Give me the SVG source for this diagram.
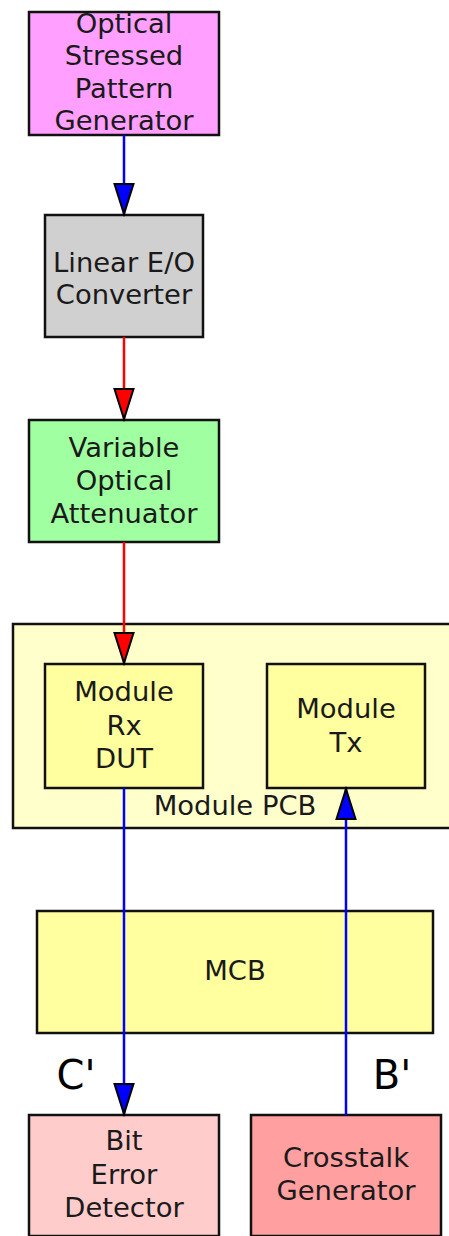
<svg xmlns="http://www.w3.org/2000/svg" width="449" height="1236" viewBox="0 0 449 1236">
<style>
.box{stroke:#111;stroke-width:2.5}
.t{font-family:"DejaVu Sans",sans-serif;font-size:27.4px;fill:#1a1a1a;text-anchor:middle;dominant-baseline:central}
.big{font-family:"DejaVu Sans",sans-serif;font-size:40px;fill:#000;text-anchor:middle;dominant-baseline:central}
.blue{stroke:#0000ff;stroke-width:2.5;fill:none}
.red{stroke:#ff0000;stroke-width:2.5;fill:none}
</style>
<defs>
<marker id="ab" markerUnits="userSpaceOnUse" markerWidth="34" markerHeight="22" refX="31" refY="11" orient="auto" viewBox="0 0 34 22">
<path d="M1,1.5 L1,20.5 L31,11 Z" fill="#0000ff" stroke="#000" stroke-width="2"/>
</marker>
<marker id="ar" markerUnits="userSpaceOnUse" markerWidth="34" markerHeight="22" refX="31" refY="11" orient="auto" viewBox="0 0 34 22">
<path d="M1,1.5 L1,20.5 L31,11 Z" fill="#ff0000" stroke="#000" stroke-width="2"/>
</marker>
</defs>
<rect width="449" height="1236" fill="#fff"/>
<g id="pcb">
<rect class="box" x="13" y="624" width="440" height="204" fill="#ffffcc"/>
<text class="t" x="235" y="805">Module PCB</text>
</g>
<g id="ospg">
<rect class="box" x="29" y="12" width="190" height="123" fill="#ff9fff"/>
<text class="t" x="124" y="23">Optical</text>
<text class="t" x="124" y="55">Stressed</text>
<text class="t" x="124" y="88">Pattern</text>
<text class="t" x="124" y="120">Generator</text>
</g>
<g id="eo">
<rect class="box" x="45" y="215" width="158" height="122" fill="#d0d0d0"/>
<text class="t" x="124" y="262">Linear E/O</text>
<text class="t" x="124" y="294">Converter</text>
</g>
<g id="voa">
<rect class="box" x="29" y="420" width="190" height="122" fill="#a0ffa0"/>
<text class="t" x="124" y="447">Variable</text>
<text class="t" x="124" y="480">Optical</text>
<text class="t" x="124" y="513">Attenuator</text>
</g>
<g id="rx">
<rect class="box" x="45" y="664" width="158" height="124" fill="#ffff9f"/>
<text class="t" x="124" y="691">Module</text>
<text class="t" x="124" y="725">Rx</text>
<text class="t" x="124" y="758">DUT</text>
</g>
<g id="tx">
<rect class="box" x="267" y="664" width="158" height="124" fill="#ffff9f"/>
<text class="t" x="346" y="708">Module</text>
<text class="t" x="346" y="742">Tx</text>
</g>
<g id="mcb">
<rect class="box" x="37" y="911" width="396" height="122" fill="#ffff9f"/>
<text class="t" x="235" y="970">MCB</text>
</g>
<g id="bed">
<rect class="box" x="29" y="1115" width="190" height="121" fill="#ffcccc"/>
<text class="t" x="124" y="1140">Bit</text>
<text class="t" x="124" y="1174">Error</text>
<text class="t" x="124" y="1207">Detector</text>
</g>
<g id="xt">
<rect class="box" x="251" y="1115" width="190" height="121" fill="#ff9f9f"/>
<text class="t" x="346" y="1157">Crosstalk</text>
<text class="t" x="346" y="1190">Generator</text>
</g>
<g id="labels">
<text class="big" x="76" y="1075">C'</text>
<text class="big" x="392" y="1075">B'</text>
</g>
<g id="connectors">
<line class="blue" x1="124" y1="135" x2="124" y2="214" marker-end="url(#ab)"/>
<line class="red" x1="124" y1="337" x2="124" y2="419" marker-end="url(#ar)"/>
<line class="red" x1="124" y1="542" x2="124" y2="663" marker-end="url(#ar)"/>
<line class="blue" x1="124" y1="788" x2="124" y2="1114" marker-end="url(#ab)"/>
<line class="blue" x1="346" y1="1115" x2="346" y2="789" marker-end="url(#ab)"/>
</g>
</svg>
